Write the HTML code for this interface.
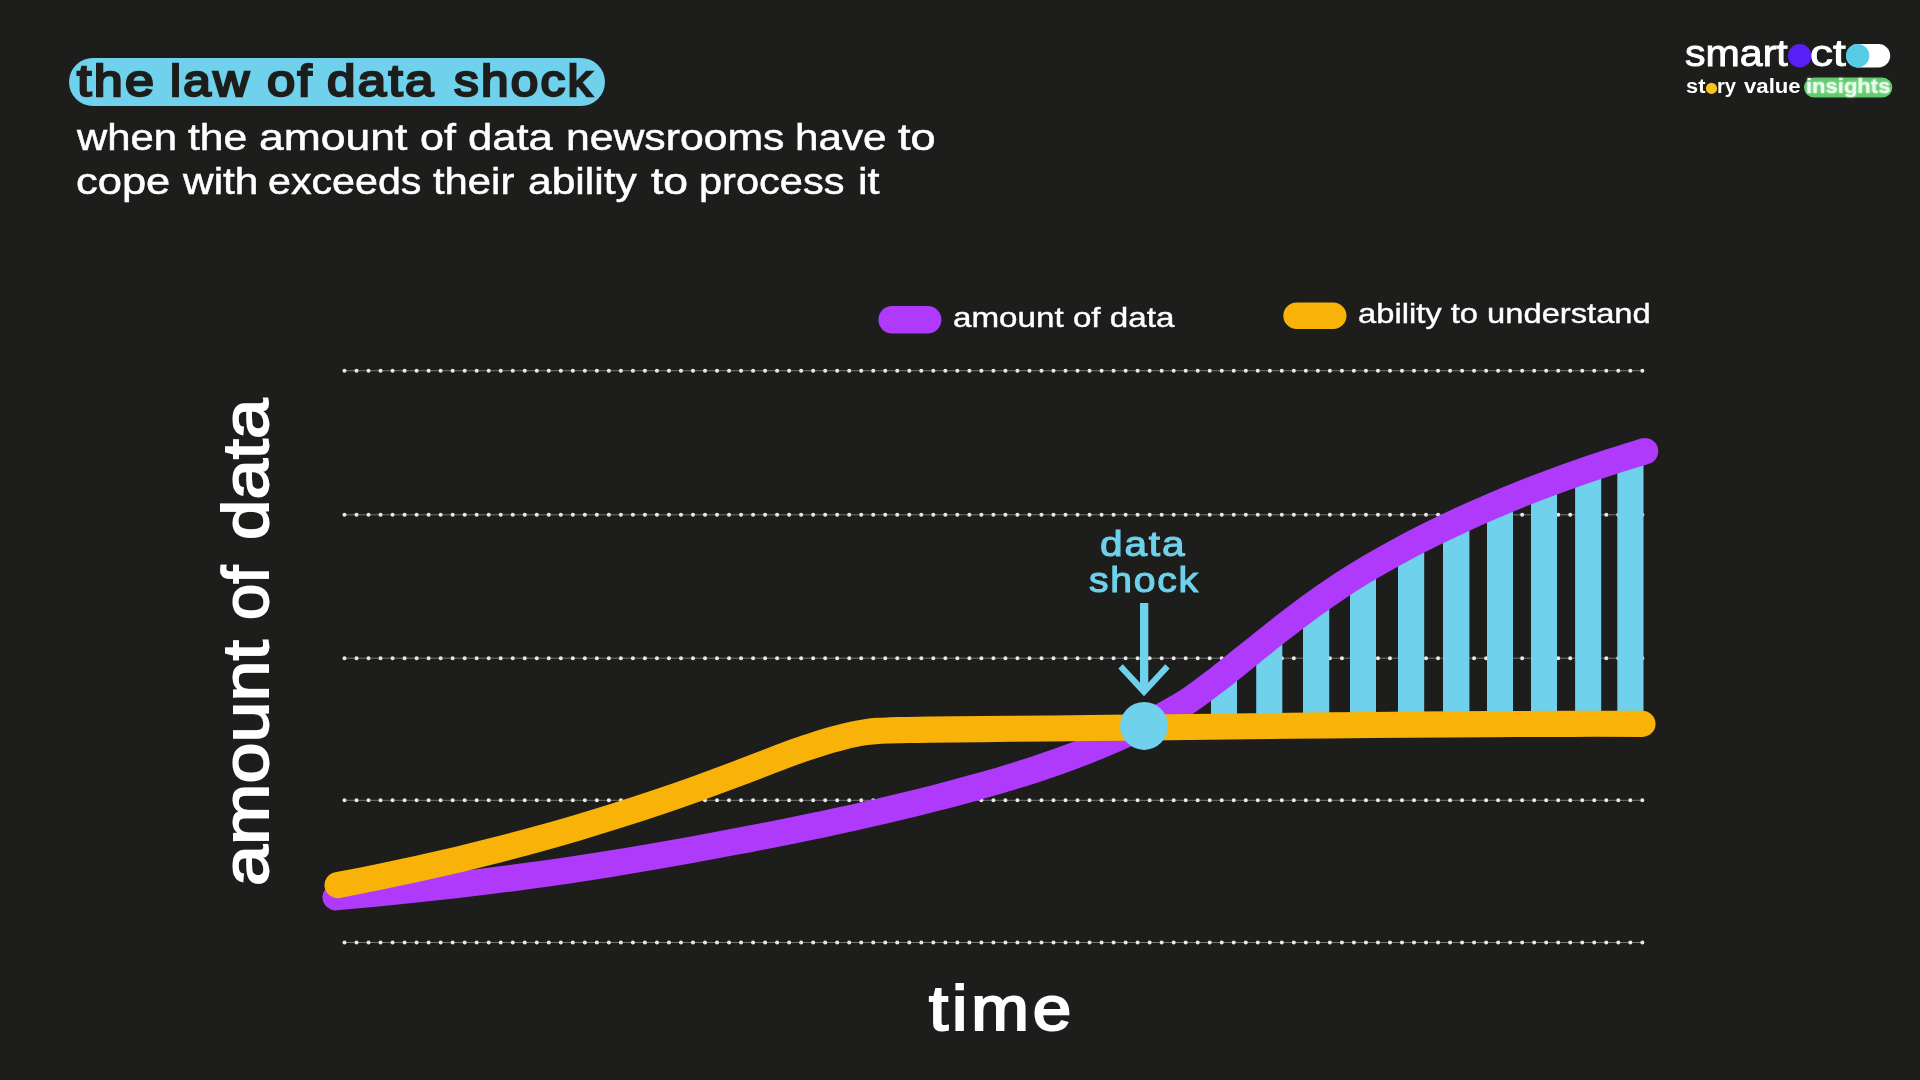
<!DOCTYPE html>
<html lang="en"><head><meta charset="utf-8"><title>the law of data shock</title>
<style>
html,body{margin:0;padding:0;background:#1d1d1b;}
body{width:1920px;height:1080px;position:relative;overflow:hidden;font-family:"Liberation Sans",sans-serif;}
.t{position:absolute;white-space:nowrap;line-height:1;display:block;transform-origin:0 50%;will-change:transform;}
svg{position:absolute;left:0;top:0;}
.pill{position:absolute;}
.g{margin:0;padding:0;font-size:0;line-height:0;font-weight:normal;}
</style></head><body>
<div class="pill" style="left:68.6px;top:57.7px;width:536.5px;height:47.9px;border-radius:24px;background:#6fd1eb;"></div>
<svg width="1920" height="1080" viewBox="0 0 1920 1080">
<defs><clipPath id="under"><path d="M335.70 897.14 C340.77 896.67 355.95 895.29 366.10 894.32 C376.25 893.35 386.45 892.36 396.60 891.33 C406.75 890.30 416.85 889.25 427.00 888.15 C437.15 887.05 447.35 885.93 457.50 884.76 C467.65 883.59 477.75 882.38 487.90 881.13 C498.05 879.88 508.25 878.59 518.40 877.24 C528.55 875.89 538.65 874.50 548.80 873.06 C558.95 871.62 569.15 870.12 579.30 868.58 C589.45 867.04 599.55 865.44 609.70 863.81 C619.85 862.18 630.05 860.50 640.20 858.78 C650.35 857.06 660.45 855.30 670.60 853.51 C680.75 851.72 690.95 849.89 701.10 848.03 C711.25 846.17 721.35 844.27 731.50 842.35 C741.65 840.43 751.85 838.48 762.00 836.50 C772.15 834.52 782.25 832.51 792.40 830.45 C802.55 828.39 812.75 826.30 822.90 824.16 C833.05 822.01 843.15 819.83 853.30 817.58 C863.45 815.33 873.65 813.03 883.80 810.66 C893.95 808.29 904.05 805.86 914.20 803.35 C924.35 800.84 934.55 798.26 944.70 795.60 C954.85 792.94 964.95 790.21 975.10 787.37 C985.25 784.53 995.45 781.63 1005.60 778.58 C1015.75 775.53 1025.85 772.39 1036.00 769.05 C1046.15 765.71 1056.35 762.24 1066.50 758.52 C1076.65 754.80 1086.75 750.92 1096.90 746.75 C1107.05 742.58 1117.25 738.20 1127.40 733.47 C1137.55 728.74 1147.65 723.81 1157.80 718.37 C1167.95 712.93 1178.15 707.47 1188.30 700.81 C1198.45 694.15 1208.55 686.18 1218.70 678.40 C1228.85 670.62 1239.05 662.20 1249.20 654.11 C1259.35 646.02 1269.45 637.78 1279.60 629.88 C1289.75 621.98 1299.95 614.11 1310.10 606.73 C1320.25 599.35 1330.35 592.29 1340.50 585.61 C1350.65 578.93 1360.85 572.68 1371.00 566.67 C1381.15 560.66 1391.25 555.01 1401.40 549.54 C1411.55 544.07 1421.75 538.90 1431.90 533.87 C1442.05 528.84 1452.15 524.02 1462.30 519.35 C1472.45 514.68 1482.65 510.19 1492.80 505.84 C1502.95 501.49 1513.05 497.32 1523.20 493.28 C1533.35 489.24 1543.55 485.37 1553.70 481.61 C1563.85 477.86 1573.95 474.25 1584.10 470.75 C1594.25 467.25 1604.45 463.90 1614.60 460.64 C1624.75 457.38 1639.93 452.78 1645.00 451.21 L1660 451 L1660 740 L334 899 Z"/></clipPath></defs>
<line x1="344.5" y1="370.7" x2="1642.3" y2="370.7" stroke="#7c7c7a" stroke-width="0.9"/>
<line x1="344.5" y1="370.7" x2="1643" y2="370.7" stroke="#e6e6e3" stroke-width="4.1" stroke-linecap="round" stroke-dasharray="0 12.017"/>
<line x1="344.5" y1="514.8" x2="1642.3" y2="514.8" stroke="#7c7c7a" stroke-width="0.9"/>
<line x1="344.5" y1="514.8" x2="1643" y2="514.8" stroke="#e6e6e3" stroke-width="4.1" stroke-linecap="round" stroke-dasharray="0 12.017"/>
<line x1="344.5" y1="658.2" x2="1642.3" y2="658.2" stroke="#7c7c7a" stroke-width="0.9"/>
<line x1="344.5" y1="658.2" x2="1643" y2="658.2" stroke="#e6e6e3" stroke-width="4.1" stroke-linecap="round" stroke-dasharray="0 12.017"/>
<line x1="344.5" y1="800.3" x2="1642.3" y2="800.3" stroke="#7c7c7a" stroke-width="0.9"/>
<line x1="344.5" y1="800.3" x2="1643" y2="800.3" stroke="#e6e6e3" stroke-width="4.1" stroke-linecap="round" stroke-dasharray="0 12.017"/>
<line x1="344.5" y1="942.5" x2="1642.3" y2="942.5" stroke="#7c7c7a" stroke-width="0.9"/>
<line x1="344.5" y1="942.5" x2="1643" y2="942.5" stroke="#e6e6e3" stroke-width="4.1" stroke-linecap="round" stroke-dasharray="0 12.017"/>

<g clip-path="url(#under)" fill="#6fd1eb"><rect x="1211" y="430" width="26" height="295" /><rect x="1256.2" y="430" width="26.1" height="295" /><rect x="1303" y="430" width="26.2" height="295" /><rect x="1350" y="430" width="26" height="295" /><rect x="1398" y="430" width="26.2" height="295" /><rect x="1443" y="430" width="26.4" height="295" /><rect x="1487" y="430" width="26" height="295" /><rect x="1531" y="430" width="26" height="295" /><rect x="1575.1" y="430" width="26.1" height="295" /><rect x="1617.3" y="430" width="26.2" height="295" /></g>
<path d="M335.70 897.14 C340.77 896.67 355.95 895.29 366.10 894.32 C376.25 893.35 386.45 892.36 396.60 891.33 C406.75 890.30 416.85 889.25 427.00 888.15 C437.15 887.05 447.35 885.93 457.50 884.76 C467.65 883.59 477.75 882.38 487.90 881.13 C498.05 879.88 508.25 878.59 518.40 877.24 C528.55 875.89 538.65 874.50 548.80 873.06 C558.95 871.62 569.15 870.12 579.30 868.58 C589.45 867.04 599.55 865.44 609.70 863.81 C619.85 862.18 630.05 860.50 640.20 858.78 C650.35 857.06 660.45 855.30 670.60 853.51 C680.75 851.72 690.95 849.89 701.10 848.03 C711.25 846.17 721.35 844.27 731.50 842.35 C741.65 840.43 751.85 838.48 762.00 836.50 C772.15 834.52 782.25 832.51 792.40 830.45 C802.55 828.39 812.75 826.30 822.90 824.16 C833.05 822.01 843.15 819.83 853.30 817.58 C863.45 815.33 873.65 813.03 883.80 810.66 C893.95 808.29 904.05 805.86 914.20 803.35 C924.35 800.84 934.55 798.26 944.70 795.60 C954.85 792.94 964.95 790.21 975.10 787.37 C985.25 784.53 995.45 781.63 1005.60 778.58 C1015.75 775.53 1025.85 772.39 1036.00 769.05 C1046.15 765.71 1056.35 762.24 1066.50 758.52 C1076.65 754.80 1086.75 750.92 1096.90 746.75 C1107.05 742.58 1117.25 738.20 1127.40 733.47 C1137.55 728.74 1147.65 723.81 1157.80 718.37 C1167.95 712.93 1178.15 707.47 1188.30 700.81 C1198.45 694.15 1208.55 686.18 1218.70 678.40 C1228.85 670.62 1239.05 662.20 1249.20 654.11 C1259.35 646.02 1269.45 637.78 1279.60 629.88 C1289.75 621.98 1299.95 614.11 1310.10 606.73 C1320.25 599.35 1330.35 592.29 1340.50 585.61 C1350.65 578.93 1360.85 572.68 1371.00 566.67 C1381.15 560.66 1391.25 555.01 1401.40 549.54 C1411.55 544.07 1421.75 538.90 1431.90 533.87 C1442.05 528.84 1452.15 524.02 1462.30 519.35 C1472.45 514.68 1482.65 510.19 1492.80 505.84 C1502.95 501.49 1513.05 497.32 1523.20 493.28 C1533.35 489.24 1543.55 485.37 1553.70 481.61 C1563.85 477.86 1573.95 474.25 1584.10 470.75 C1594.25 467.25 1604.45 463.90 1614.60 460.64 C1624.75 457.38 1639.93 452.78 1645.00 451.21" fill="none" stroke="#b03afb" stroke-width="26.5" stroke-linecap="round" stroke-linejoin="round"/>
<path d="M337.50 885.06 C344.17 883.76 364.17 879.99 377.50 877.29 C390.83 874.59 404.17 871.77 417.50 868.83 C430.83 865.89 444.17 862.85 457.50 859.67 C470.83 856.49 484.17 853.19 497.50 849.77 C510.83 846.35 524.17 842.80 537.50 839.12 C550.83 835.44 564.17 831.63 577.50 827.68 C590.83 823.73 604.17 819.65 617.50 815.43 C630.83 811.21 644.17 806.86 657.50 802.36 C670.83 797.86 684.17 793.22 697.50 788.43 C710.83 783.64 725.42 778.18 737.50 773.63 C749.58 769.08 762.58 763.95 770.00 761.10 C777.42 758.25 778.00 758.04 782.00 756.54 C786.00 755.04 790.00 753.56 794.00 752.12 C798.00 750.68 802.00 749.27 806.00 747.91 C810.00 746.55 814.00 745.22 818.00 743.95 C822.00 742.69 826.00 741.47 830.00 740.32 C834.00 739.18 838.00 738.09 842.00 737.08 C846.00 736.08 850.00 735.11 854.00 734.29 C858.00 733.47 862.00 732.72 866.00 732.15 C870.00 731.58 874.00 731.17 878.00 730.87 C882.00 730.57 886.00 730.50 890.00 730.37 C894.00 730.24 895.33 730.23 902.00 730.10 C908.67 729.97 912.00 729.82 930.00 729.60 C948.00 729.38 983.33 729.07 1010.00 728.81 C1036.67 728.55 1063.33 728.32 1090.00 728.05 C1116.67 727.78 1143.33 727.48 1170.00 727.18 C1196.67 726.88 1223.33 726.57 1250.00 726.27 C1276.67 725.97 1303.33 725.67 1330.00 725.40 C1356.67 725.13 1383.33 724.87 1410.00 724.65 C1436.67 724.43 1463.33 724.24 1490.00 724.10 C1516.67 723.96 1544.58 723.87 1570.00 723.83 C1595.42 723.79 1630.42 723.87 1642.50 723.88" fill="none" stroke="#f8b208" stroke-width="26.1" stroke-linecap="round" stroke-linejoin="round"/>
<circle cx="1144.05" cy="725.9" r="24" fill="#6fd1eb"/>
<path d="M1144.15 603.1 V691" stroke="#6fd1eb" stroke-width="8.3" fill="none"/>
<path d="M1120.55 666.45 L1144 691.7 L1167.45 666.4" stroke="#6fd1eb" stroke-width="6.1" fill="none" stroke-linejoin="miter" stroke-miterlimit="10"/>
<!-- legend pills -->
<rect x="878.4" y="306.1" width="63" height="27.3" rx="13.65" fill="#b03afb"/>
<rect x="1283.3" y="302.5" width="63.2" height="26.5" rx="13.25" fill="#f8b208"/>
<!-- logo -->
<circle cx="1799.7" cy="55.7" r="11.7" fill="#5a1ff5"/>
<rect x="1846.4" y="44" width="43.8" height="23.4" rx="11.7" fill="#ffffff"/>
<circle cx="1857.6" cy="55.7" r="11.7" fill="#56cbe6"/>
<circle cx="1711.5" cy="88.4" r="5.6" fill="#fcc21c"/>
<rect x="1804" y="77.6" width="88.3" height="19.8" rx="9.9" fill="#5fcb6d"/>
</svg>
<h1 class="g"><span class="t" id="ti_0" style="left:77.32px;top:58.53px;font-size:44.5px;font-weight:normal;color:#1d1d1b;letter-spacing:2.00px;transform:scaleX(1.1694);-webkit-text-stroke:2.3px #1d1d1b;">the</span> <span class="t" id="ti_1" style="left:169.93px;top:58.53px;font-size:44.5px;font-weight:normal;color:#1d1d1b;letter-spacing:2.00px;transform:scaleX(1.1165);-webkit-text-stroke:2.3px #1d1d1b;">law</span> <span class="t" id="ti_2" style="left:266.90px;top:58.53px;font-size:44.5px;font-weight:normal;color:#1d1d1b;letter-spacing:2.00px;transform:scaleX(1.1402);-webkit-text-stroke:2.3px #1d1d1b;">of</span> <span class="t" id="ti_3" style="left:327.40px;top:58.53px;font-size:44.5px;font-weight:normal;color:#1d1d1b;letter-spacing:2.00px;transform:scaleX(1.1482);-webkit-text-stroke:2.3px #1d1d1b;">data</span> <span class="t" id="ti_4" style="left:453.51px;top:58.53px;font-size:44.5px;font-weight:normal;color:#1d1d1b;letter-spacing:2.00px;transform:scaleX(1.1116);-webkit-text-stroke:2.3px #1d1d1b;">shock</span></h1>
<p class="g"><span class="t" id="s1_0" style="left:77.40px;top:119.90px;font-size:36.5px;font-weight:normal;color:#ffffff;transform:scaleX(1.1454);-webkit-text-stroke:0.5px #fff;">when</span> <span class="t" id="s1_1" style="left:188.20px;top:119.90px;font-size:36.5px;font-weight:normal;color:#ffffff;transform:scaleX(1.1703);-webkit-text-stroke:0.5px #fff;">the</span> <span class="t" id="s1_2" style="left:258.94px;top:119.90px;font-size:36.5px;font-weight:normal;color:#ffffff;transform:scaleX(1.2185);-webkit-text-stroke:0.5px #fff;">amount</span> <span class="t" id="s1_3" style="left:420.03px;top:119.90px;font-size:36.5px;font-weight:normal;color:#ffffff;transform:scaleX(1.1800);-webkit-text-stroke:0.5px #fff;">of</span> <span class="t" id="s1_4" style="left:467.85px;top:119.90px;font-size:36.5px;font-weight:normal;color:#ffffff;transform:scaleX(1.1927);-webkit-text-stroke:0.5px #fff;">data</span> <span class="t" id="s1_5" style="left:565.74px;top:119.90px;font-size:36.5px;font-weight:normal;color:#ffffff;transform:scaleX(1.1705);-webkit-text-stroke:0.5px #fff;">newsrooms</span> <span class="t" id="s1_6" style="left:794.81px;top:119.90px;font-size:36.5px;font-weight:normal;color:#ffffff;transform:scaleX(1.1567);-webkit-text-stroke:0.5px #fff;">have</span> <span class="t" id="s1_7" style="left:897.76px;top:119.90px;font-size:36.5px;font-weight:normal;color:#ffffff;transform:scaleX(1.2369);-webkit-text-stroke:0.5px #fff;">to</span></p>
<p class="g"><span class="t" id="s2_0" style="left:75.74px;top:164.10px;font-size:36.5px;font-weight:normal;color:#ffffff;transform:scaleX(1.1914);-webkit-text-stroke:0.5px #fff;">cope</span> <span class="t" id="s2_1" style="left:182.55px;top:164.10px;font-size:36.5px;font-weight:normal;color:#ffffff;transform:scaleX(1.1619);-webkit-text-stroke:0.5px #fff;">with</span> <span class="t" id="s2_2" style="left:268.33px;top:164.10px;font-size:36.5px;font-weight:normal;color:#ffffff;transform:scaleX(1.1288);-webkit-text-stroke:0.5px #fff;">exceeds</span> <span class="t" id="s2_3" style="left:433.41px;top:164.10px;font-size:36.5px;font-weight:normal;color:#ffffff;transform:scaleX(1.1451);-webkit-text-stroke:0.5px #fff;">their</span> <span class="t" id="s2_4" style="left:528.13px;top:164.10px;font-size:36.5px;font-weight:normal;color:#ffffff;transform:scaleX(1.1660);-webkit-text-stroke:0.5px #fff;">ability</span> <span class="t" id="s2_5" style="left:650.91px;top:164.10px;font-size:36.5px;font-weight:normal;color:#ffffff;transform:scaleX(1.2196);-webkit-text-stroke:0.5px #fff;">to</span> <span class="t" id="s2_6" style="left:698.61px;top:164.10px;font-size:36.5px;font-weight:normal;color:#ffffff;transform:scaleX(1.1380);-webkit-text-stroke:0.5px #fff;">process</span> <span class="t" id="s2_7" style="left:857.51px;top:164.10px;font-size:36.5px;font-weight:normal;color:#ffffff;transform:scaleX(1.1825);-webkit-text-stroke:0.5px #fff;">it</span></p>
<div class="g"><span class="t" id="lg1" style="left:1685.36px;top:35.69px;font-size:36.4px;font-weight:normal;color:#ffffff;transform:scaleX(1.1298);-webkit-text-stroke:0.9px #fff;">smart</span> <span class="t" id="lg2" style="left:1810.25px;top:35.69px;font-size:36.4px;font-weight:normal;color:#ffffff;transform:scaleX(1.2643);-webkit-text-stroke:0.9px #fff;">ct</span> <span class="t" id="lg3" style="left:1685.66px;top:75.97px;font-size:20px;font-weight:bold;color:#ffffff;transform:scaleX(1.0902);">st</span> <span class="t" id="lg4" style="left:1717.45px;top:75.97px;font-size:20px;font-weight:bold;color:#ffffff;transform:scaleX(1.0114);">ry</span> <span class="t" id="lg5" style="left:1744.04px;top:75.97px;font-size:20px;font-weight:bold;color:#ffffff;transform:scaleX(1.1088);">value</span> <span class="t" id="lg6" style="left:1805.66px;top:75.97px;font-size:20px;font-weight:bold;color:#e9fbea;transform:scaleX(1.1006);text-shadow:0 0 2.5px rgba(255,255,255,.85);">insights</span></div>
<div class="g"><span class="t" id="leg1" style="left:953.36px;top:303.60px;font-size:28px;font-weight:normal;color:#ffffff;transform:scaleX(1.1851);-webkit-text-stroke:0.4px #fff;">amount of data</span></div>
<div class="g"><span class="t" id="leg2" style="left:1357.92px;top:299.90px;font-size:28px;font-weight:normal;color:#ffffff;transform:scaleX(1.1682);-webkit-text-stroke:0.4px #fff;">ability to understand</span></div>
<div class="g"><span class="t" id="ylab1" style="left:214.22px;top:885.57px;font-size:64px;font-weight:normal;color:#ffffff;transform-origin:0 0;transform:rotate(-90deg) scaleX(1.1523);-webkit-text-stroke:1.8px #fff;">amount</span> <span class="t" id="ylab2" style="left:214.22px;top:619.61px;font-size:64px;font-weight:normal;color:#ffffff;transform-origin:0 0;transform:rotate(-90deg) scaleX(1.0187);-webkit-text-stroke:1.8px #fff;">of</span> <span class="t" id="ylab3" style="left:214.22px;top:539.86px;font-size:64px;font-weight:normal;color:#ffffff;transform-origin:0 0;transform:rotate(-90deg) scaleX(1.1357);-webkit-text-stroke:1.8px #fff;">data</span></div>
<div class="g"><span class="t" id="ds1" style="left:1100.15px;top:526.86px;font-size:35.6px;font-weight:normal;color:#6fd1eb;letter-spacing:1.60px;transform:scaleX(1.1407);-webkit-text-stroke:1.15px #6fd1eb;">data</span> <span class="t" id="ds2" style="left:1088.85px;top:562.86px;font-size:35.6px;font-weight:normal;color:#6fd1eb;letter-spacing:1.60px;transform:scaleX(1.0963);-webkit-text-stroke:1.15px #6fd1eb;">shock</span></div>
<div class="g"><span class="t" id="time" style="left:928.60px;top:976.97px;font-size:63px;font-weight:normal;color:#ffffff;letter-spacing:3.50px;transform:scaleX(1.0988);-webkit-text-stroke:2.1px #fff;">time</span></div>
</body></html>
